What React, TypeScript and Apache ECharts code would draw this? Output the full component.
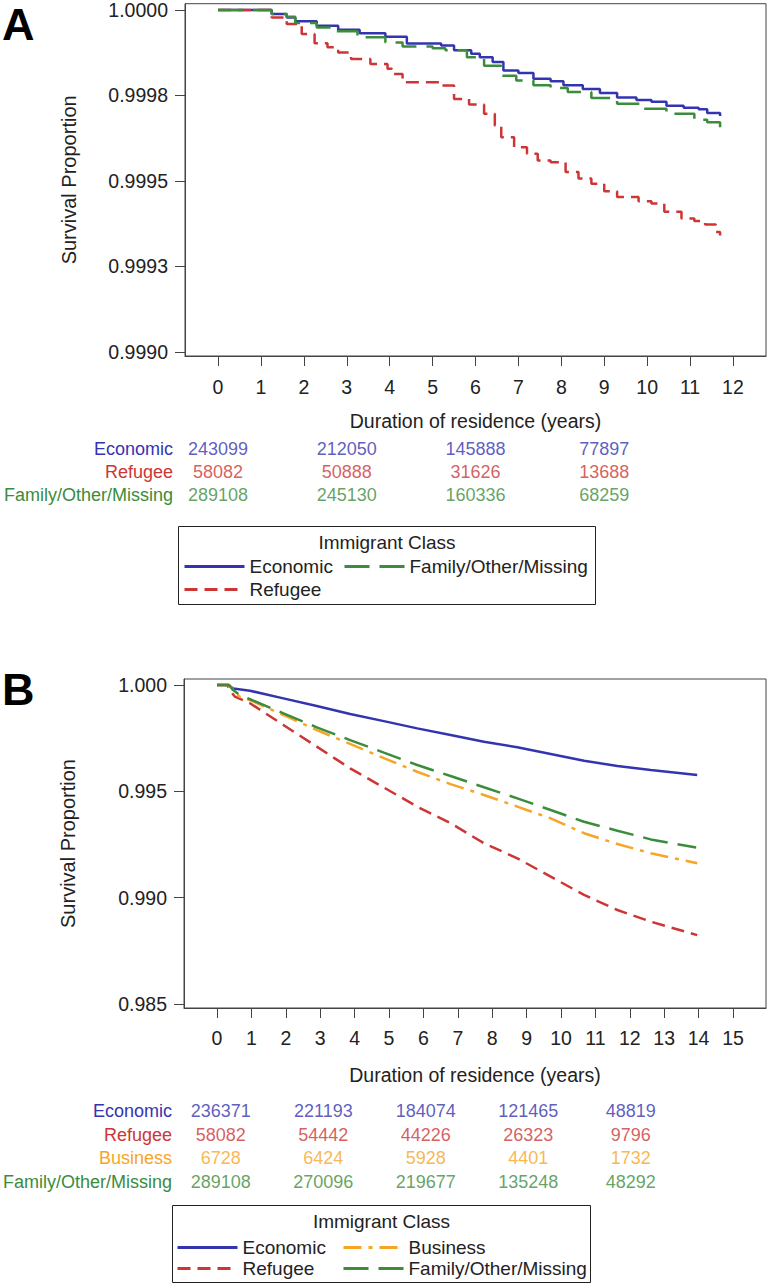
import React, { useEffect, useRef } from "react";
import * as echarts from "echarts";

// ---------- Panel A data ----------
const xTicksA = [0, 1, 2, 3, 4, 5, 6, 7, 8, 9, 10, 11, 12];
const yTicksA = [0.999, 0.99925, 0.9995, 0.99975, 1.0];
const yTickLabelsA = ["0.9990", "0.9993", "0.9995", "0.9998", "1.0000"];

const econTimeA = [0, 1.25, 1.6, 1.8, 2.3, 2.8, 3.3, 3.9, 4.4, 5.2, 5.5, 5.9, 6.1, 6.4, 6.65, 7.0, 7.35, 7.75, 8.05, 8.5, 8.9, 9.3, 9.75, 10.1, 10.45, 10.85, 11.2, 11.4, 11.7];
const econSurvA = [1.0, 0.999988, 0.999978, 0.999967, 0.999954, 0.999942, 0.999932, 0.999922, 0.999902, 0.999896, 0.999882, 0.999872, 0.999862, 0.999848, 0.999823, 0.999816, 0.999799, 0.999792, 0.99978, 0.999769, 0.999757, 0.999744, 0.999737, 0.999732, 0.99972, 0.999714, 0.99971, 0.999699, 0.99969];

const refTimeA = [0, 1.25, 1.6, 1.95, 2.25, 2.55, 2.8, 3.1, 3.55, 3.95, 4.05, 4.3, 5.2, 5.5, 5.85, 6.2, 6.45, 6.6, 6.9, 7.2, 7.45, 7.75, 8.1, 8.4, 8.7, 9.0, 9.3, 9.8, 10.1, 10.4, 10.8, 11.1, 11.35, 11.6, 11.7];
const refSurvA = [1.0, 0.999978, 0.999959, 0.99993, 0.999903, 0.999891, 0.999876, 0.999857, 0.999842, 0.999828, 0.999813, 0.999789, 0.999779, 0.99974, 0.999724, 0.999697, 0.999662, 0.999628, 0.999599, 0.99958, 0.99956, 0.999555, 0.999526, 0.999507, 0.999492, 0.99947, 0.999453, 0.999441, 0.999434, 0.99941, 0.99939, 0.999383, 0.999373, 0.999351, 0.999341];

const famTimeA = [0, 1.25, 1.6, 1.8, 2.3, 2.7, 3.25, 3.9, 4.3, 5.0, 5.3, 5.8, 6.2, 6.6, 6.95, 7.35, 7.75, 8.15, 8.7, 9.3, 9.9, 10.45, 11.1, 11.4, 11.7];
const famSurvA = [1.0, 0.999988, 0.99998, 0.999962, 0.999949, 0.999938, 0.99992, 0.999905, 0.999893, 0.999888, 0.999882, 0.999862, 0.999837, 0.999808, 0.999794, 0.99978, 0.999772, 0.99976, 0.999743, 0.999726, 0.999711, 0.999697, 0.999679, 0.999672, 0.999657];

const riskRowsA = ["Economic", "Refugee", "Family/Other/Missing"];
const riskTimesA = [0, 3, 6, 9];
const riskEconA = [243099, 212050, 145888, 77897];
const riskRefA = [58082, 50888, 31626, 13688];
const riskFamA = [289108, 245130, 160336, 68259];

// ---------- Panel B data ----------
const xTicksB = [0, 1, 2, 3, 4, 5, 6, 7, 8, 9, 10, 11, 12, 13, 14, 15];
const yTicksB = [0.985, 0.99, 0.995, 1.0];
const yTickLabelsB = ["0.985", "0.990", "0.995", "1.000"];

const econTimeB = [0, 0.33, 0.47, 0.96, 1.93, 2.9, 3.87, 4.85, 5.82, 6.79, 7.76, 8.73, 9.7, 10.67, 11.64, 12.61, 13.96];
const econSurvB = [1.0, 1.0, 0.99984, 0.99973, 0.99937, 0.99901, 0.99864, 0.9983, 0.99796, 0.99765, 0.99733, 0.99707, 0.99676, 0.99644, 0.99619, 0.996, 0.99577];

const refTimeB = [0, 0.3, 0.37, 0.52, 0.96, 1.93, 2.9, 3.87, 4.85, 5.82, 6.79, 7.76, 8.73, 9.7, 10.67, 11.64, 12.61, 13.96];
const refSurvB = [1.0, 1.0, 0.99976, 0.99945, 0.99914, 0.99812, 0.9971, 0.99608, 0.99518, 0.99428, 0.9935, 0.99256, 0.99185, 0.99099, 0.99013, 0.98942, 0.98887, 0.98824];

const busTimeB = [0, 0.35, 0.5, 0.66, 0.96, 1.93, 2.9, 3.87, 4.85, 5.82, 6.79, 7.76, 8.73, 9.7, 10.67, 11.64, 12.61, 13.96];
const busSurvB = [1.0, 1.0, 0.9997, 0.99945, 0.99929, 0.99859, 0.99788, 0.99723, 0.99656, 0.99592, 0.99534, 0.99483, 0.99428, 0.99373, 0.99303, 0.99252, 0.99209, 0.99162];

const famTimeB = [0, 0.35, 0.47, 0.66, 0.96, 1.93, 2.9, 3.87, 4.85, 5.82, 6.79, 7.76, 8.73, 9.7, 10.67, 11.64, 12.61, 13.93];
const famSurvB = [1.0, 1.0, 0.99976, 0.99953, 0.99933, 0.99867, 0.99801, 0.99741, 0.99682, 0.99624, 0.99572, 0.99519, 0.99467, 0.99412, 0.99357, 0.99315, 0.99274, 0.99236];

const riskRowsB = ["Economic", "Refugee", "Business", "Family/Other/Missing"];
const riskTimesB = [0, 3, 6, 9, 12];
const riskEconB = [236371, 221193, 184074, 121465, 48819];
const riskRefB = [58082, 54442, 44226, 26323, 9796];
const riskBusB = [6728, 6424, 5928, 4401, 1732];
const riskFamB = [289108, 270096, 219677, 135248, 48292];

// Legend columns
const legendColsA = [["Economic", "Refugee"], ["Family/Other/Missing"]];
const legendColsB = [["Economic", "Refugee"], ["Business", "Family/Other/Missing"]];

// ---------- Styles ----------
const FONT = "'Liberation Sans', Arial, Helvetica, sans-serif";
const TEXT = "#222222";
const FRAME = "#444444";
const C_ECON = "#3434b0";
const C_REF = "#cd3636";
const C_BUS = "#f6a526";
const C_FAM = "#3b8c3b";
const rowColor: Record<string, string> = {
  Economic: C_ECON,
  Refugee: C_REF,
  Business: C_BUS,
  "Family/Other/Missing": C_FAM,
};

const zip = (t: number[], v: number[]) => t.map((x, i) => [x, v[i]]);
const nearestLabel = (ticks: number[], labels: string[]) => (val: number) => {
  let best = 0;
  for (let i = 1; i < ticks.length; i++) {
    if (Math.abs(ticks[i] - val) < Math.abs(ticks[best] - val)) best = i;
  }
  return labels[best];
};

function plotXAxis(gridIndex: number, min: number, max: number, ticks: number[], nameGap: number, margin: number) {
  return {
    type: "value",
    gridIndex,
    min,
    max,
    name: "Duration of residence (years)",
    nameLocation: "middle",
    nameGap,
    nameTextStyle: { fontSize: 19.5, color: TEXT, fontFamily: FONT },
    axisLine: { show: true, onZero: false, lineStyle: { color: FRAME, width: 1 } },
    axisTick: { show: true, inside: false, length: 10, customValues: ticks, lineStyle: { color: FRAME, width: 1 } },
    axisLabel: { show: true, customValues: ticks, margin, fontSize: 19.5, color: TEXT, fontFamily: FONT },
    splitLine: { show: false },
  };
}

function plotYAxis(gridIndex: number, min: number, max: number, ticks: number[], labels: string[]) {
  return {
    type: "value",
    gridIndex,
    min,
    max,
    name: "Survival Proportion",
    nameLocation: "middle",
    nameRotate: 90,
    nameGap: 106,
    nameTextStyle: { fontSize: 20, color: TEXT, fontFamily: FONT },
    axisLine: { show: true, onZero: false, lineStyle: { color: FRAME, width: 1 } },
    axisTick: { show: true, inside: false, length: 10, customValues: ticks, lineStyle: { color: FRAME, width: 1 } },
    axisLabel: {
      show: true,
      customValues: ticks,
      margin: 17,
      fontSize: 19.5,
      color: TEXT,
      fontFamily: FONT,
      formatter: nearestLabel(ticks, labels),
    },
    splitLine: { show: false },
  };
}

function tableYAxis(gridIndex: number, rows: string[], margin: number) {
  return {
    type: "category",
    gridIndex,
    data: rows,
    inverse: true,
    axisLine: { show: false },
    axisTick: { show: false },
    splitLine: { show: false },
    axisLabel: {
      show: true,
      interval: 0,
      hideOverlap: false,
      margin,
      fontSize: 18,
      fontFamily: FONT,
      color: (value: string) => rowColor[value] || TEXT,
    },
  };
}

function riskSeries(panel: string, axisIndex: number, rowIdx: number, rowName: string, times: number[], counts: number[]) {
  return {
    type: "scatter",
    name: `${rowName} at risk (${panel})`,
    xAxisIndex: axisIndex,
    yAxisIndex: axisIndex,
    silent: true,
    symbol: "circle",
    symbolSize: 1,
    itemStyle: { color: "rgba(0,0,0,0)" },
    label: {
      show: true,
      position: "inside",
      fontSize: 18,
      fontFamily: FONT,
      color: rowColor[rowName],
      formatter: (p: any) => String(p.value[2]),
    },
    data: times.map((t, i) => [t, rowIdx, counts[i]]),
  };
}

function curve(name: string, axisIndex: number, data: number[][], color: string, dash: any, step: any) {
  return {
    type: "line",
    name,
    xAxisIndex: axisIndex,
    yAxisIndex: axisIndex,
    data,
    step,
    symbol: "none",
    showSymbol: false,
    color,
    lineStyle: { color, width: 2.5, type: dash },
    itemStyle: { color },
    emphasis: { disabled: true },
  };
}

const DASH_REF = [13, 7];
const DASH_FAM = [25, 10];
const DASH_BUS = [18, 7, 4, 7];

function legendCol(data: string[], left: number, top: number, gap: number) {
  return {
    data,
    orient: "vertical",
    left,
    top,
    padding: 0,
    itemWidth: 60,
    itemHeight: 14,
    itemGap: gap,
    selectedMode: false,
    itemStyle: { color: "rgba(0,0,0,0)", borderColor: "rgba(0,0,0,0)", borderWidth: 0 },
    lineStyle: { width: 3 },
    textStyle: { fontSize: 19, color: TEXT, fontFamily: FONT },
  };
}

export default function App() {
  const ref = useRef<HTMLDivElement>(null);

  useEffect(() => {
    if (!ref.current) return;
    const chart = echarts.init(ref.current, undefined, { renderer: "svg" });

    const option: any = {
      animation: false,
      textStyle: { fontFamily: FONT },
      grid: [
        { left: 185, top: 3, width: 581, height: 353, show: true, borderColor: FRAME, borderWidth: 1, backgroundColor: "transparent" },
        { left: 185, top: 437.5, width: 581, height: 69 },
        { left: 184, top: 679, width: 582, height: 329, show: true, borderColor: FRAME, borderWidth: 1, backgroundColor: "transparent" },
        { left: 184, top: 1099, width: 582, height: 95 },
      ],
      xAxis: [
        plotXAxis(0, -0.77, 12.77, xTicksA, 55, 21),
        { type: "value", gridIndex: 1, min: -0.77, max: 12.77, show: false },
        plotXAxis(2, -0.96, 15.96, xTicksB, 57, 20),
        { type: "value", gridIndex: 3, min: -0.96, max: 15.96, show: false },
      ],
      yAxis: [
        plotYAxis(0, 0.9989883, 1.0000184, yTicksA, yTickLabelsA),
        tableYAxis(1, riskRowsA, 12),
        plotYAxis(2, 0.984812, 1.000282, yTicksB, yTickLabelsB),
        tableYAxis(3, riskRowsB, 16),
      ],
      legend: [
        legendCol(legendColsA[0], 183, 557, 4),
        legendCol(legendColsA[1], 343, 557, 4),
        legendCol(legendColsB[0], 176, 1238, 2),
        legendCol(legendColsB[1], 342, 1238, 2),
      ],
      graphic: [
        { type: "text", left: 2, top: 2, style: { text: "A", fontSize: 45, fontWeight: "bold", fill: "#000", fontFamily: FONT } },
        { type: "text", left: 2, top: 667, style: { text: "B", fontSize: 45, fontWeight: "bold", fill: "#000", fontFamily: FONT } },
        { type: "rect", shape: { x: 178.5, y: 526.5, width: 417, height: 78 }, style: { fill: "none", stroke: "#222", lineWidth: 1 }, silent: true },
        { type: "text", x: 387, y: 542, style: { text: "Immigrant Class", fontSize: 19, fill: TEXT, fontFamily: FONT, align: "center", verticalAlign: "middle" } },
        { type: "rect", shape: { x: 172.5, y: 1205.5, width: 418, height: 77 }, style: { fill: "none", stroke: "#222", lineWidth: 1 }, silent: true },
        { type: "text", x: 381.5, y: 1221, style: { text: "Immigrant Class", fontSize: 19, fill: TEXT, fontFamily: FONT, align: "center", verticalAlign: "middle" } },
      ],
      series: [
        curve("Economic", 0, zip(econTimeA, econSurvA), C_ECON, "solid", "end"),
        curve("Refugee", 0, zip(refTimeA, refSurvA), C_REF, DASH_REF, "end"),
        curve("Family/Other/Missing", 0, zip(famTimeA, famSurvA), C_FAM, DASH_FAM, "end"),
        riskSeries("A", 1, 0, "Economic", riskTimesA, riskEconA),
        riskSeries("A", 1, 1, "Refugee", riskTimesA, riskRefA),
        riskSeries("A", 1, 2, "Family/Other/Missing", riskTimesA, riskFamA),
        curve("Economic", 2, zip(econTimeB, econSurvB), C_ECON, "solid", false),
        curve("Refugee", 2, zip(refTimeB, refSurvB), C_REF, DASH_REF, false),
        curve("Business", 2, zip(busTimeB, busSurvB), C_BUS, DASH_BUS, false),
        curve("Family/Other/Missing", 2, zip(famTimeB, famSurvB), C_FAM, DASH_FAM, false),
        riskSeries("B", 3, 0, "Economic", riskTimesB, riskEconB),
        riskSeries("B", 3, 1, "Refugee", riskTimesB, riskRefB),
        riskSeries("B", 3, 2, "Business", riskTimesB, riskBusB),
        riskSeries("B", 3, 3, "Family/Other/Missing", riskTimesB, riskFamB),
      ],
    };

    chart.setOption(option);
    return () => chart.dispose();
  }, []);

  return (
    <div
      ref={ref}
      style={{ position: "absolute", left: 0, top: 0, width: 768, height: 1286, background: "#ffffff" }}
    />
  );
}
